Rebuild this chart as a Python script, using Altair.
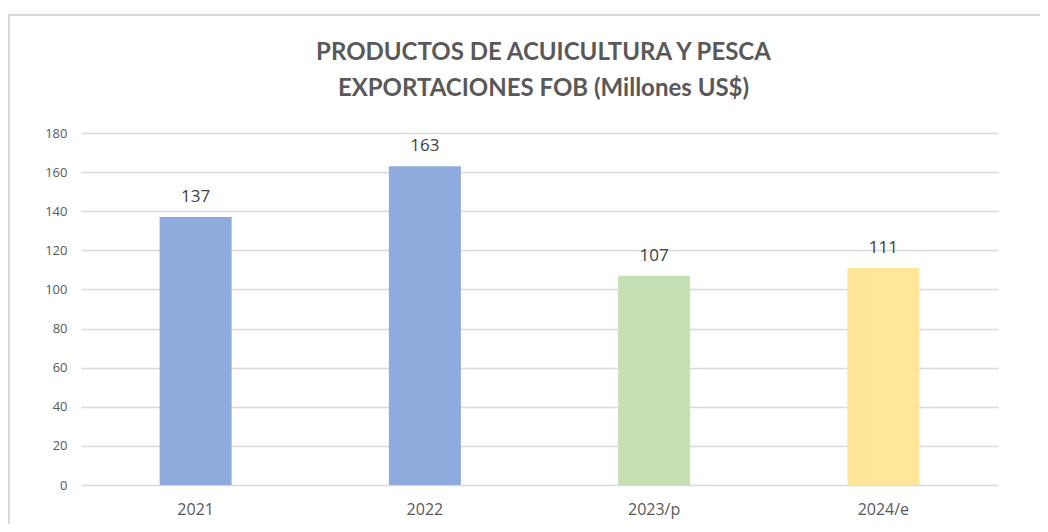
import altair as alt
import pandas as pd

categories = ["2021", "2022", "2023/p", "2024/e"]
values = [137, 163, 107, 111]
colors = ["#8FAADC", "#8FAADC", "#C5E0B4", "#FFE699"]

df = pd.DataFrame({"cat": categories, "val": values, "color": colors})

x = alt.X("cat:N", sort=categories, title=None,
          scale=alt.Scale(paddingInner=0, paddingOuter=0),
          axis=alt.Axis(labelAngle=0, labelFontSize=16, labelColor="#595959",
                        labelFont="Open Sans", labelPadding=16, ticks=False,
                        domain=False, grid=False))
y = alt.Y("val:Q", title=None,
          scale=alt.Scale(domain=[0, 180], nice=False),
          axis=alt.Axis(values=list(range(0, 181, 20)), labelFontSize=13,
                        labelColor="#595959", labelFont="Open Sans",
                        labelPadding=14, ticks=False, domain=False,
                        labelOverlap=False,
                        gridColor="#D9D9D9", gridWidth=1.3))

bars = alt.Chart(df).mark_bar(size=72).encode(
    x=x, y=y, color=alt.Color("color:N", scale=None)
)

labels = alt.Chart(df).mark_text(baseline="bottom", dy=-11, fontSize=17,
                                 color="#404040", font="Open Sans").encode(
    x=x, y=y, text="val:Q"
)

border = alt.Chart(pd.DataFrame({"k": [0]})).mark_rect(
    fill=None, stroke="#D9D9D9", strokeWidth=2
).encode(
    x=alt.value(-72), x2=alt.value(980), y=alt.value(-118), y2=alt.value(420)
)

chart = alt.layer(border, bars, labels).properties(
    width=917, height=352,
    background="white",
    title=alt.TitleParams(
        text=["PRODUCTOS DE ACUICULTURA Y PESCA", "EXPORTACIONES FOB (Millones US$)"],
        fontSize=24, font="Lato", fontWeight="bold", color="#595959",
        anchor="middle", offset=-87, lineHeight=36, dx=4, frame="group"
    ),
    padding={"left": 73, "top": 125, "right": 42, "bottom": 39},
    autosize=alt.AutoSizeParams(type="none")
).configure_view(stroke=None, strokeWidth=0)

chart.save("out.html", embed_options={"renderer": "svg", "actions": False})
